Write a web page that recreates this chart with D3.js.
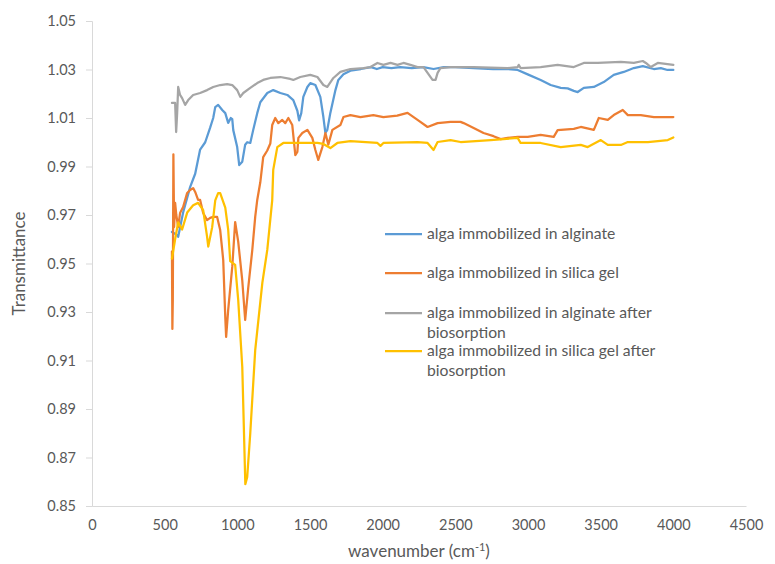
<!DOCTYPE html>
<html>
<head>
<meta charset="utf-8">
<script src="https://cdn.jsdelivr.net/npm/d3@7"></script>
<style>
  body { margin: 0; background: #fff; }
  text { font-family: Lato, "Open Sans", sans-serif; fill: #595959; }
</style>
</head>
<body>
<div id="chart"></div>
<script>
// wavenumber (cm-1), transmittance pairs
const alginate = [
  [550,0.963],[580,0.962],[593,0.961],[627,0.971],[675,0.9815],[710,0.987],[744,0.997],[779,1.000],
  [813,1.006],[834,1.010],[848,1.0145],[868,1.0154],[896,1.0133],[917,1.012],[937,1.008],[955,1.010],
  [965,1.0095],[972,1.005],[999,0.998],[1013,0.9906],[1034,0.992],[1054,0.999],[1068,1.000],[1089,0.9997],
  [1109,1.005],[1137,1.012],[1158,1.0165],[1206,1.0203],[1247,1.0215],[1296,1.0203],[1344,1.0195],
  [1385,1.0174],[1413,1.013],[1425,1.009],[1440,1.012],[1454,1.0187],[1482,1.0228],[1502,1.0244],
  [1537,1.0236],[1571,1.0187],[1592,1.0104],[1606,1.0038],[1619,1.0051],[1640,1.0121],[1675,1.0215],
  [1695,1.0257],[1730,1.028],[1778,1.0295],[1850,1.0302],[1920,1.031],[1960,1.0302],[2000,1.031],
  [2060,1.0306],[2120,1.031],[2200,1.0306],[2280,1.031],[2350,1.0302],[2420,1.031],[2500,1.031],
  [2626,1.0306],[2760,1.0302],[2860,1.0302],[2929,1.0298],[2998,1.028],[3087,1.0257],[3156,1.0236],
  [3225,1.0224],[3273,1.0222],[3315,1.0212],[3342,1.0207],[3384,1.0224],[3453,1.0228],[3521,1.0248],
  [3590,1.0278],[3659,1.029],[3728,1.0306],[3790,1.0314],[3866,1.0302],[3914,1.0306],[3960,1.0298],[4000,1.0298]
];
const silicaGel = [
  [550,0.955],[553,0.923],[556,0.935],[560,0.995],[565,0.965],[572,0.975],[580,0.970],[593,0.965],
  [606,0.9708],[627,0.9733],[655,0.9791],[675,0.9803],[696,0.9811],[710,0.9795],[730,0.9762],[744,0.9762],
  [765,0.9708],[792,0.9679],[813,0.9688],[834,0.9692],[861,0.9692],[882,0.9638],[896,0.9556],[903,0.9514],
  [917,0.9279],[923,0.9197],[937,0.9308],[965,0.9486],[985,0.9671],[1006,0.959],[1034,0.943],[1054,0.9267],
  [1075,0.940],[1103,0.9556],[1123,0.9692],[1137,0.9762],[1158,0.9835],[1178,0.9939],[1206,0.9966],
  [1227,0.9995],[1240,1.0071],[1261,1.010],[1282,1.0079],[1309,1.0092],[1330,1.0079],[1351,1.010],
  [1378,1.0071],[1399,0.9947],[1413,0.996],[1420,1.0018],[1447,1.0038],[1482,1.0051],[1516,1.0018],
  [1537,0.9968],[1557,0.9927],[1585,0.998],[1606,1.0038],[1626,0.999],[1654,1.0051],[1709,1.0071],
  [1730,1.0104],[1778,1.0112],[1847,1.0104],[1936,1.0112],[2005,1.0104],[2100,1.011],[2171,1.0121],
  [2240,1.0092],[2309,1.0063],[2378,1.0079],[2467,1.0084],[2536,1.0084],[2557,1.0079],[2626,1.0059],
  [2694,1.0038],[2763,1.0025],[2812,1.0013],[2860,1.0018],[2929,1.0022],[2998,1.0022],[3087,1.003],
  [3177,1.0022],[3204,1.005],[3315,1.0055],[3363,1.0063],[3453,1.0051],[3487,1.010],[3549,1.0092],
  [3590,1.0112],[3652,1.0133],[3687,1.0112],[3776,1.0112],[3866,1.0104],[4000,1.0104]
];
const alginateAfter = [
  [550,1.0162],[572,1.0162],[579,1.0042],[586,1.0121],[593,1.0228],[606,1.0195],[620,1.0182],[641,1.0154],
  [662,1.0174],[696,1.0195],[744,1.0203],[792,1.0215],[834,1.0228],[882,1.0236],[930,1.024],[965,1.0236],
  [999,1.0215],[1020,1.0187],[1041,1.0203],[1089,1.0224],[1137,1.0244],[1178,1.0257],[1227,1.0265],
  [1296,1.0269],[1364,1.0261],[1385,1.0257],[1433,1.0269],[1502,1.0278],[1551,1.0269],[1592,1.0236],
  [1619,1.0228],[1661,1.0265],[1709,1.029],[1778,1.0302],[1868,1.0306],[1916,1.031],[1964,1.0327],
  [2005,1.0319],[2054,1.0327],[2102,1.0319],[2143,1.0327],[2191,1.0319],[2240,1.031],[2281,1.031],
  [2309,1.0286],[2343,1.0257],[2364,1.0257],[2378,1.0286],[2398,1.0306],[2467,1.031],[2626,1.031],
  [2860,1.0306],[2929,1.031],[2936,1.0319],[2949,1.0306],[3087,1.031],[3204,1.0319],[3315,1.031],
  [3384,1.0327],[3480,1.0327],[3639,1.0331],[3728,1.0327],[3790,1.0335],[3811,1.0327],[3845,1.031],
  [3893,1.0327],[4000,1.0319]
];
const silicaGelAfter = [
  [550,0.952],[572,0.960],[593,0.967],[620,0.964],[655,0.971],[696,0.974],[730,0.975],[765,0.972],
  [792,0.961],[800,0.957],[827,0.965],[848,0.976],[868,0.979],[882,0.979],[917,0.973],[937,0.964],
  [951,0.951],[985,0.9494],[1006,0.935],[1034,0.9073],[1055,0.859],[1068,0.862],[1089,0.880],
  [1123,0.9143],[1172,0.942],[1206,0.9556],[1240,0.976],[1247,0.9886],[1275,0.998],[1316,0.9997],
  [1385,0.9997],[1551,0.9997],[1592,0.9993],[1640,0.9976],[1688,0.9997],[1778,1.0005],[1964,0.9997],
  [1985,0.9985],[2005,0.9997],[2240,1.0001],[2309,0.9997],[2350,0.9968],[2378,1.0001],[2467,1.0009],
  [2536,1.0001],[2743,1.0009],[2929,1.0018],[2949,0.9997],[3087,0.9997],[3225,0.998],[3363,0.9989],
  [3411,0.998],[3501,1.0009],[3549,0.9989],[3639,0.9989],[3687,1.0001],[3825,1.0001],[3962,1.0009],[4000,1.002]
];

const seriesNames = [
  ["alga immobilized in alginate"],
  ["alga immobilized in silica gel"],
  ["alga immobilized in alginate after", "biosorption"],
  ["alga immobilized in silica gel after", "biosorption"]
];
const seriesColors = ["#5B9BD5", "#ED7D31", "#A5A5A5", "#FFC000"];
const xTicks = [0, 500, 1000, 1500, 2000, 2500, 3000, 3500, 4000, 4500];
const yTicks = [0.85, 0.87, 0.89, 0.91, 0.93, 0.95, 0.97, 0.99, 1.01, 1.03, 1.05];

const width = 775, height = 564;
const svg = d3.select("#chart").append("svg")
  .attr("width", width).attr("height", height);

const x = d3.scaleLinear().domain([0, 4500]).range([92, 746]);
const y = d3.scaleLinear().domain([0.85, 1.05]).range([506, 21]);

// y axis
const yAxis = svg.append("g").attr("transform", "translate(92,0)")
  .call(d3.axisLeft(y).tickValues(yTicks).tickSize(6).tickPadding(10).tickFormat(d3.format(".2f")));
yAxis.select(".domain").attr("stroke", "#d9d9d9");
yAxis.selectAll(".tick line").attr("stroke", "#d9d9d9");
yAxis.selectAll(".tick text").attr("font-size", 14.5).attr("fill", "#595959")
  .style("font-family", "Lato, sans-serif");

// x axis, no tick marks
const xAxis = svg.append("g").attr("transform", "translate(0,506)")
  .call(d3.axisBottom(x).tickValues(xTicks).tickSize(0).tickPadding(14).tickFormat(d3.format("d")));
xAxis.select(".domain").attr("stroke", "#d9d9d9");
xAxis.selectAll(".tick text").attr("font-size", 14.5).attr("fill", "#595959")
  .style("font-family", "Lato, sans-serif");

// titles
svg.append("text")
  .attr("transform", "translate(25," + ((y(0.85) + y(1.05)) / 2) + ") rotate(-90)")
  .attr("text-anchor", "middle").attr("font-size", 17)
  .text("Transmittance");

const xt = svg.append("text")
  .attr("x", (x(0) + x(4500)) / 2).attr("y", 557)
  .attr("text-anchor", "middle").attr("font-size", 17);
xt.append("tspan").text("wavenumber (cm");
xt.append("tspan").attr("font-size", 11).attr("dy", -6).text("-1");
xt.append("tspan").attr("dy", 6).text(")");

// lines
const line = d3.line()
  .x(d => x(d[0]))
  .y(d => y(d[1]));

const allSeries = [alginate, silicaGel, alginateAfter, silicaGelAfter];
svg.append("g").selectAll("path")
  .data(allSeries)
  .join("path")
  .attr("fill", "none")
  .attr("stroke", (d, i) => seriesColors[i])
  .attr("stroke-width", 2.25)
  .attr("stroke-linejoin", "round")
  .attr("stroke-linecap", "round")
  .attr("d", line);

// legend
const legendRows = [234, 273, 313, 351];
const legend = svg.append("g");
seriesNames.forEach((lines, i) => {
  legend.append("line")
    .attr("x1", 385).attr("x2", 422)
    .attr("y1", legendRows[i]).attr("y2", legendRows[i])
    .attr("stroke", seriesColors[i]).attr("stroke-width", 2.25);
  lines.forEach((t, j) => {
    legend.append("text")
      .attr("x", 427).attr("y", legendRows[i] + j * 20)
      .attr("dy", "0.35em").attr("font-size", 15.7)
      .text(t);
  });
});
</script>
</body>
</html>
